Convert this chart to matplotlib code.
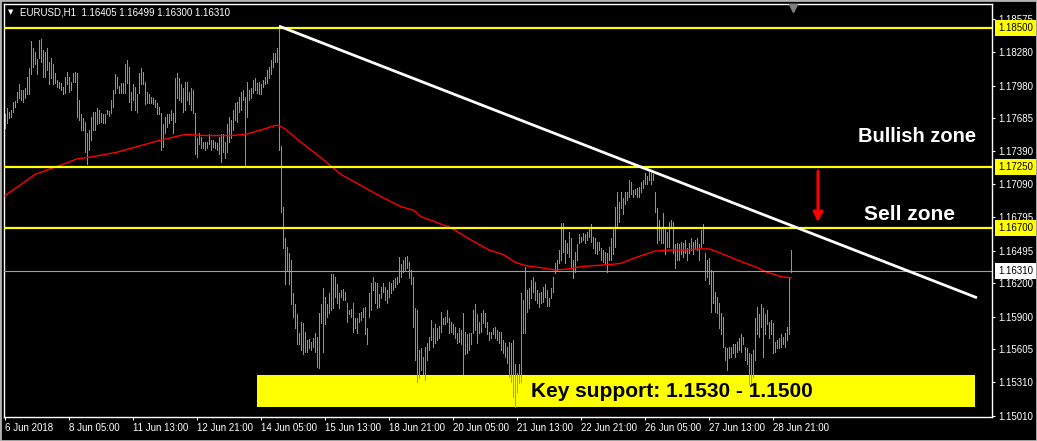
import numpy as np
import matplotlib
matplotlib.use("Agg")
import matplotlib.pyplot as plt
from matplotlib import font_manager
from matplotlib.patches import Rectangle
from matplotlib.transforms import blended_transform_factory

# EURUSD H1 bars (high / low), one value per hourly bar, 6 Jun - 29 Jun 2018
highs = [
    1.1772, 1.1778, 1.1774, 1.1776, 1.1783, 1.1784, 1.1792, 1.1799, 1.1794, 1.1794,
    1.1796, 1.1806, 1.1814, 1.1838, 1.1832, 1.1828, 1.1822, 1.1839, 1.1840, 1.1830,
    1.1828, 1.1832, 1.1819, 1.1823, 1.1817, 1.1809, 1.1803, 1.1801, 1.1800, 1.1797,
    1.1806, 1.1810, 1.1806, 1.1801, 1.1809, 1.1810, 1.1809, 1.1785, 1.1772, 1.1769,
    1.1765, 1.1755, 1.1758, 1.1770, 1.1774, 1.1774, 1.1778, 1.1776, 1.1773, 1.1772,
    1.1772, 1.1776, 1.1775, 1.1785, 1.1794, 1.1808, 1.1806, 1.1798, 1.1800, 1.1800,
    1.1817, 1.1821, 1.1815, 1.1792, 1.1799, 1.1797, 1.1790, 1.1809, 1.1814, 1.1810,
    1.1801, 1.1792, 1.1790, 1.1788, 1.1787, 1.1785, 1.1782, 1.1779, 1.1773, 1.1763,
    1.1770, 1.1772, 1.1772, 1.1776, 1.1773, 1.1805, 1.1809, 1.1805, 1.1799, 1.1796,
    1.1801, 1.1801, 1.1792, 1.1796, 1.1794, 1.1773, 1.1751, 1.1755, 1.1752, 1.1747,
    1.1747, 1.1747, 1.1754, 1.1749, 1.1749, 1.1747, 1.1746, 1.1752, 1.1754, 1.1754,
    1.1747, 1.1763, 1.1770, 1.1767, 1.1776, 1.1782, 1.1783, 1.1788, 1.1792, 1.1794,
    1.1788, 1.1801, 1.1794, 1.1796, 1.1803, 1.1805, 1.1800, 1.1801, 1.1799, 1.1803,
    1.1806, 1.1812, 1.1815, 1.1821, 1.1827, 1.1827, 1.1832, 1.1852, 1.1744, 1.1689,
    1.1661, 1.1653, 1.1647, 1.1641, 1.1611, 1.1601, 1.1592, 1.1575, 1.1585, 1.1584,
    1.1576, 1.1569, 1.1570, 1.1567, 1.1571, 1.1575, 1.1572, 1.1593, 1.1601, 1.1616,
    1.1608, 1.1601, 1.1611, 1.1628, 1.1628, 1.1626, 1.1619, 1.1611, 1.1614, 1.1615,
    1.1612, 1.1602, 1.1596, 1.1597, 1.1602, 1.1589, 1.1589, 1.1593, 1.1594, 1.1598,
    1.1599, 1.1580, 1.1611, 1.1620, 1.1626, 1.1621, 1.1620, 1.1610, 1.1617, 1.1620,
    1.1617, 1.1614, 1.1621, 1.1620, 1.1623, 1.1625, 1.1626, 1.1644, 1.1637, 1.1641,
    1.1644, 1.1645, 1.1639, 1.1632, 1.1626, 1.1598, 1.1596, 1.1560, 1.1562, 1.1554,
    1.1563, 1.1566, 1.1572, 1.1587, 1.1580, 1.1583, 1.1580, 1.1582, 1.1594, 1.1589,
    1.1590, 1.1596, 1.1589, 1.1585, 1.1583, 1.1581, 1.1575, 1.1580, 1.1578, 1.1593,
    1.1576, 1.1574, 1.1575, 1.1575, 1.1596, 1.1601, 1.1592, 1.1585, 1.1593, 1.1596,
    1.1593, 1.1585, 1.1576, 1.1576, 1.1580, 1.1581, 1.1578, 1.1576, 1.1576, 1.1569,
    1.1566, 1.1563, 1.1567, 1.1566, 1.1569, 1.1547, 1.1539, 1.1547, 1.1611, 1.1605,
    1.1635, 1.1614, 1.1616, 1.1623, 1.1626, 1.1621, 1.1614, 1.1611, 1.1612, 1.1617,
    1.1619, 1.1614, 1.1607, 1.1616, 1.1626, 1.1638, 1.1641, 1.1650, 1.1674, 1.1674,
    1.1659, 1.1656, 1.1666, 1.1661, 1.1641, 1.1648, 1.1655, 1.1664, 1.1662, 1.1665,
    1.1664, 1.1666, 1.1669, 1.1673, 1.1662, 1.1661, 1.1657, 1.1657, 1.1652, 1.1650,
    1.1648, 1.1647, 1.1653, 1.1661, 1.1670, 1.1689, 1.1702, 1.1693, 1.1702, 1.1697,
    1.1702, 1.1702, 1.1713, 1.1711, 1.1704, 1.1705, 1.1706, 1.1707, 1.1711, 1.1713,
    1.1719, 1.1717, 1.1720, 1.1719, 1.1718, 1.1702, 1.1688, 1.1677, 1.1671, 1.1683,
    1.1670, 1.1666, 1.1675, 1.1677, 1.1675, 1.1655, 1.1656, 1.1655, 1.1657, 1.1656,
    1.1659, 1.1652, 1.1656, 1.1661, 1.1657, 1.1659, 1.1661, 1.1655, 1.1668, 1.1673,
    1.1647, 1.1641, 1.1643, 1.1632, 1.1630, 1.1612, 1.1608, 1.1602, 1.1593, 1.1590,
    1.1563, 1.1562, 1.1563, 1.1563, 1.1565, 1.1565, 1.1567, 1.1571, 1.1574, 1.1572,
    1.1563, 1.1562, 1.1557, 1.1556, 1.1560, 1.1589, 1.1599, 1.1592, 1.1601, 1.1598,
    1.1592, 1.1596, 1.1585, 1.1587, 1.1584, 1.1567, 1.1569, 1.1571, 1.1574, 1.1572,
    1.1575, 1.1581, 1.1625, 1.16499,
]
lows = [
    1.1760, 1.1764, 1.1769, 1.1770, 1.1774, 1.1779, 1.1783, 1.1787, 1.1785, 1.1783,
    1.1787, 1.1790, 1.1790, 1.1808, 1.1815, 1.1817, 1.1808, 1.1823, 1.1819, 1.1806,
    1.1806, 1.1812, 1.1799, 1.1805, 1.1799, 1.1800, 1.1797, 1.1796, 1.1794, 1.1790,
    1.1791, 1.1799, 1.1792, 1.1794, 1.1801, 1.1801, 1.1770, 1.1767, 1.1758, 1.1758,
    1.1738, 1.1727, 1.1740, 1.1749, 1.1758, 1.1758, 1.1763, 1.1764, 1.1765, 1.1764,
    1.1764, 1.1772, 1.1771, 1.1773, 1.1779, 1.1791, 1.1796, 1.1791, 1.1791, 1.1791,
    1.1791, 1.1800, 1.1783, 1.1776, 1.1785, 1.1776, 1.1774, 1.1791, 1.1799, 1.1799,
    1.1781, 1.1782, 1.1782, 1.1782, 1.1781, 1.1779, 1.1772, 1.1772, 1.1740, 1.1743,
    1.1755, 1.1761, 1.1764, 1.1767, 1.1755, 1.1765, 1.1787, 1.1785, 1.1783, 1.1774,
    1.1776, 1.1785, 1.1781, 1.1776, 1.1773, 1.1736, 1.1734, 1.1745, 1.1742, 1.1742,
    1.1740, 1.1742, 1.1745, 1.1740, 1.1743, 1.1742, 1.1740, 1.1736, 1.1729, 1.1738,
    1.1733, 1.1738, 1.1747, 1.1751, 1.1758, 1.1767, 1.1765, 1.1774, 1.1776, 1.1785,
    1.1725, 1.1770, 1.1785, 1.1787, 1.1791, 1.1794, 1.1791, 1.1790, 1.1790, 1.1797,
    1.1799, 1.1800, 1.1805, 1.1808, 1.1815, 1.1819, 1.1819, 1.1740, 1.1684, 1.1652,
    1.1619, 1.1632, 1.1619, 1.1601, 1.1590, 1.1580, 1.1565, 1.1565, 1.1560, 1.1556,
    1.1558, 1.1558, 1.1562, 1.1560, 1.1563, 1.1558, 1.1545, 1.1544, 1.1584, 1.1558,
    1.1583, 1.1590, 1.1593, 1.1596, 1.1598, 1.1608, 1.1602, 1.1598, 1.1608, 1.1605,
    1.1605, 1.1585, 1.1592, 1.1590, 1.1576, 1.1580, 1.1575, 1.1585, 1.1587, 1.1590,
    1.1574, 1.1565, 1.1590, 1.1596, 1.1614, 1.1602, 1.1598, 1.1599, 1.1607, 1.1612,
    1.1605, 1.1602, 1.1608, 1.1611, 1.1614, 1.1617, 1.1619, 1.1621, 1.1626, 1.1630,
    1.1632, 1.1634, 1.1625, 1.1619, 1.1581, 1.1551, 1.1531, 1.1535, 1.1542, 1.1538,
    1.1533, 1.1551, 1.1560, 1.1569, 1.1563, 1.1566, 1.1569, 1.1571, 1.1576, 1.1583,
    1.1583, 1.1585, 1.1575, 1.1576, 1.1574, 1.1571, 1.1566, 1.1567, 1.1565, 1.1538,
    1.1556, 1.1557, 1.1560, 1.1565, 1.1575, 1.1578, 1.1566, 1.1575, 1.1576, 1.1584,
    1.1581, 1.1574, 1.1569, 1.1571, 1.1574, 1.1571, 1.1569, 1.1566, 1.1560, 1.1557,
    1.1554, 1.1548, 1.1536, 1.1531, 1.1518, 1.1509, 1.1522, 1.1530, 1.1531, 1.1575,
    1.1575, 1.1594, 1.1598, 1.1607, 1.1612, 1.1605, 1.1602, 1.1599, 1.1602, 1.1603,
    1.1608, 1.1600, 1.1600, 1.1607, 1.1612, 1.1629, 1.1632, 1.1638, 1.1641, 1.1648,
    1.1638, 1.1647, 1.1644, 1.1634, 1.1625, 1.1630, 1.1641, 1.1656, 1.1657, 1.1659,
    1.1656, 1.1659, 1.1662, 1.1657, 1.1652, 1.1647, 1.1646, 1.1650, 1.1641, 1.1639,
    1.1638, 1.1630, 1.1641, 1.1641, 1.1646, 1.1653, 1.1670, 1.1675, 1.1688, 1.1682,
    1.1691, 1.1695, 1.1698, 1.1700, 1.1698, 1.1700, 1.1698, 1.1698, 1.1702, 1.1706,
    1.1709, 1.1709, 1.1713, 1.1709, 1.1713, 1.1684, 1.1656, 1.1659, 1.1656, 1.1656,
    1.1646, 1.1653, 1.1653, 1.1670, 1.1647, 1.1634, 1.1641, 1.1641, 1.1646, 1.1644,
    1.1647, 1.1641, 1.1647, 1.1650, 1.1646, 1.1652, 1.1650, 1.1641, 1.1653, 1.1656,
    1.1623, 1.1626, 1.1619, 1.1594, 1.1602, 1.1594, 1.1593, 1.1580, 1.1574, 1.1563,
    1.1551, 1.1542, 1.1553, 1.1554, 1.1557, 1.1554, 1.1558, 1.1560, 1.1558, 1.1565,
    1.1551, 1.1547, 1.1529, 1.1529, 1.1536, 1.1551, 1.1574, 1.1572, 1.1581, 1.1554,
    1.1574, 1.1583, 1.1571, 1.1574, 1.1557, 1.1558, 1.1562, 1.1562, 1.1563, 1.1565,
    1.1563, 1.1569, 1.1574, 1.16300,
]

# red moving average, read at a few bars
ma_idx = [0, 8, 15, 24, 29, 36, 44, 56, 68, 78, 90, 101, 113, 120, 128, 135, 137,
          140, 148, 158, 168, 178, 188, 198, 204, 208, 223, 233, 242, 249, 255, 260,
          268, 275, 282, 288, 295, 303, 308, 315, 320, 325, 333, 341, 347, 352, 358,
          366, 375, 381, 388, 393]
ma_val = [1.1699, 1.1709, 1.1718, 1.1724, 1.1727, 1.1732, 1.1734, 1.1738, 1.1744,
          1.1749, 1.1754, 1.1753, 1.1753, 1.1754, 1.1758, 1.1762, 1.1762, 1.1759,
          1.1747, 1.1733, 1.1718, 1.1708, 1.1698, 1.1689, 1.1686, 1.1680, 1.1670,
          1.1659, 1.1650, 1.1646, 1.1639, 1.1636, 1.1634, 1.1632, 1.1633, 1.1635,
          1.1636, 1.1637, 1.1638, 1.1643, 1.1646, 1.1649, 1.1650, 1.1650, 1.1651,
          1.1651, 1.1647, 1.1641, 1.1635, 1.1630, 1.1626, 1.1625]

# trendline from the 14 Jun high
trend_idx = [137, 486]
trend_val = [1.18515, 1.1607]

levels = [1.1850, 1.1725, 1.1670]
last_price = 1.16310
support_idx = [126, 485]
support_val = [1.1509, 1.15375]

ytick_vals = [1.18575, 1.18280, 1.17980, 1.17685, 1.17390, 1.17090, 1.16795,
              1.16495, 1.16200, 1.15900, 1.15605, 1.15310, 1.15010]
xtick_idx = [0, 32, 64, 96, 128, 160, 192, 224, 256, 288, 320, 352, 384]
xtick_lbl = ["6 Jun 2018", "8 Jun 05:00", "11 Jun 13:00", "12 Jun 21:00",
             "14 Jun 05:00", "15 Jun 13:00", "18 Jun 21:00", "20 Jun 05:00",
             "21 Jun 13:00", "22 Jun 21:00", "26 Jun 05:00", "27 Jun 13:00",
             "28 Jun 21:00"]

# pick a narrow font for the scale texts if one is there
installed = {f.name for f in font_manager.fontManager.ttflist}
small_font, small_size = "Liberation Sans", 7.0
for cand, sz in [("Liberation Sans Narrow", 7.8), ("DejaVu Sans Condensed", 7.0)]:
    if cand in installed:
        small_font, small_size = cand, sz
        break
SMALL = [small_font, "DejaVu Sans"]
BOLD = ["Liberation Sans", "DejaVu Sans"]

fig = plt.figure(figsize=(10.37, 4.41), dpi=100, facecolor="black")
ax = fig.add_axes([4 / 1037, 24 / 441, 988 / 1037, 413 / 441])
ax.set_facecolor("black")
ax.set_xlim(-0.5, 493.5)
ax.set_ylim(1.14997, 1.18714)

idx = np.arange(len(highs))
assert len(highs) == len(lows)

# key support box behind the bars
ax.add_patch(Rectangle((support_idx[0], support_val[0]),
                       support_idx[1] - support_idx[0],
                       support_val[1] - support_val[0],
                       facecolor="#ffff00", edgecolor="none", zorder=1))

ax.vlines(idx, lows, highs, colors="#32d732", linewidth=0.72,
          antialiased=False, zorder=2)
ax.plot(ma_idx, ma_val, color="#ff0000", lw=1.0, zorder=3)

for lv in levels:
    ax.axhline(lv, color="#ffff00", lw=1.6, zorder=4)
ax.axhline(last_price, color="#a0a0a0", lw=0.8, zorder=4)
ax.plot(trend_idx, trend_val, color="white", lw=2.0, zorder=5,
        solid_capstyle="butt")

ax.text(333.5, 1.1523, "Key support: 1.1530 - 1.1500", color="black",
        fontsize=15, fontweight="bold", family=BOLD, ha="center", va="center",
        zorder=6)
ax.text(456, 1.1752, "Bullish zone", color="white", fontsize=14.5,
        fontweight="bold", family=BOLD, ha="center", va="center", zorder=6)
ax.text(452, 1.1682, "Sell zone", color="white", fontsize=15,
        fontweight="bold", family=BOLD, ha="center", va="center", zorder=6)
ax.annotate("", xy=(406.5, 1.1675), xytext=(406.5, 1.1721),
            arrowprops=dict(arrowstyle="-|>", color="#ff0000", lw=2.2,
                            mutation_scale=14, shrinkA=0, shrinkB=0),
            zorder=6)

# chart shift marker at the top
trans_top = blended_transform_factory(ax.transData, ax.transAxes)
ax.plot([394], [0.99], marker="v", color="#7f7f7f", markersize=6,
        transform=trans_top, clip_on=False, zorder=7)

# axes styling like the terminal
for sp in ax.spines.values():
    sp.set_color("white")
    sp.set_linewidth(1.0)
ax.yaxis.tick_right()
ax.set_yticks(ytick_vals)
ax.set_yticklabels([f"{v:.5f}" for v in ytick_vals])
ax.set_xticks(xtick_idx)
ax.set_xticklabels(xtick_lbl, ha="left")
ax.tick_params(axis="both", colors="white", length=2.2, width=0.8,
               direction="out", labelsize=small_size, pad=2)
for lab in ax.get_xticklabels() + ax.get_yticklabels():
    lab.set_family(SMALL)

# price tags on the right scale
trans_r = blended_transform_factory(ax.transAxes, ax.transData)
tag_x = 1.0 + 6 / 988
for lv in levels:
    ax.text(tag_x, lv, f"{lv:.5f}", transform=trans_r, color="black",
            fontsize=small_size, family=SMALL, va="center", ha="left",
            clip_on=False, zorder=8,
            bbox=dict(facecolor="#ffff00", edgecolor="none",
                      boxstyle="square,pad=0.3"))
ax.text(tag_x, last_price, f"{last_price:.5f}", transform=trans_r,
        color="black", fontsize=small_size, family=SMALL, va="center",
        ha="left", clip_on=False, zorder=8,
        bbox=dict(facecolor="white", edgecolor="none",
                  boxstyle="square,pad=0.3"))

# header
fig.text(11 / 1037, 1 - 12.5 / 441, "\u25bc", color="white", fontsize=5,
         ha="center", va="center", family="DejaVu Sans")
fig.text(20 / 1037, 1 - 12.5 / 441,
         "EURUSD,H1  1.16405 1.16499 1.16300 1.16310",
         color="white", fontsize=small_size, family=SMALL, ha="left",
         va="center")

fig.patches.append(Rectangle((0, 0), 1, 1, transform=fig.transFigure,
                             fill=False, edgecolor="#b4b4b4", lw=2.0))

fig.savefig("out.png", dpi=100, facecolor="black")
